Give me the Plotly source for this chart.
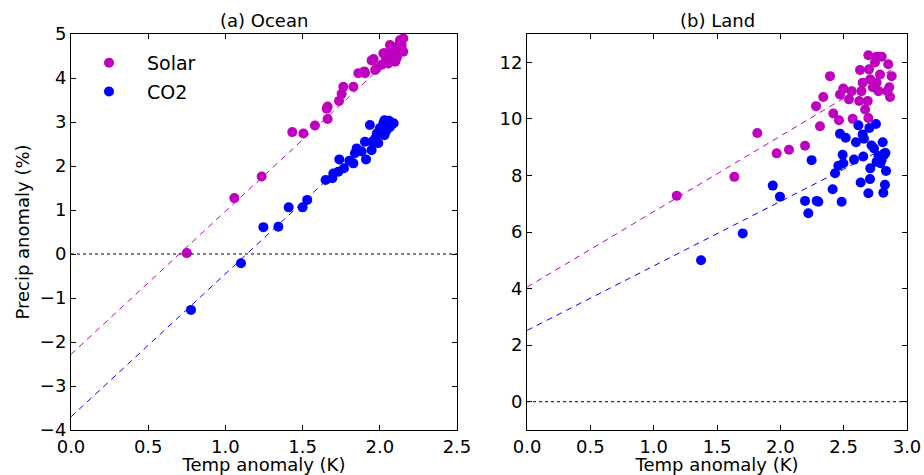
import plotly.graph_objects as go

# ---------------- data ----------------
ocean_solar_x = [0.75, 1.058, 1.235, 1.433, 1.505, 1.580, 1.662, 1.656, 1.662, 1.736, 1.753, 1.764,
                 1.829, 1.861, 1.904, 1.90, 1.947, 1.97, 1.98, 2.012, 2.023, 2.034, 2.055, 2.055,
                 2.066, 2.088, 2.088, 2.10, 2.109, 2.109, 2.131, 2.131, 2.142, 2.152, 2.152, 2.12,
                 2.14, 2.07, 2.04, 1.96]
ocean_solar_y = [0.02, 1.27, 1.76, 2.77, 2.74, 2.92, 3.07, 3.30, 3.35, 3.48, 3.64, 3.80,
                 3.80, 4.11, 4.11, 4.15, 4.40, 4.18, 4.22, 4.30, 4.56, 4.56, 4.37, 4.33,
                 4.75, 4.60, 4.64, 4.37, 4.71, 4.45, 4.86, 4.79, 4.75, 4.60, 4.90, 4.55,
                 4.68, 4.50, 4.45, 4.43]

ocean_co2_x = [0.777, 1.101, 1.246, 1.343, 1.41, 1.50, 1.53, 1.649, 1.693, 1.699, 1.731, 1.768,
               1.738, 1.803, 1.829, 1.911, 1.839, 1.850, 1.883, 1.904, 1.947, 1.95, 1.936, 1.99,
               1.98, 2.001, 2.023, 2.055, 2.03, 2.066, 2.03, 2.04, 2.07, 2.08, 2.05, 2.01,
               2.06, 2.09, 1.97]
ocean_co2_y = [-1.27, -0.21, 0.61, 0.62, 1.06, 1.06, 1.23, 1.68, 1.72, 1.83, 1.87, 1.95,
               2.15, 2.12, 2.06, 2.15, 2.29, 2.40, 2.33, 2.55, 2.36, 2.55, 2.93, 2.52,
               2.74, 2.86, 2.97, 3.01, 2.70, 2.89, 3.04, 2.79, 2.98, 2.95, 2.85, 2.75,
               3.03, 2.97, 2.62]

land_solar_x = [1.182, 1.637, 1.818, 1.971, 2.068, 2.195, 2.282, 2.313, 2.339, 2.392, 2.418, 2.463,
                2.471, 2.497, 2.542, 2.563, 2.571, 2.629, 2.623, 2.64, 2.650, 2.669, 2.69, 2.695,
                2.70, 2.695, 2.71, 2.73, 2.747, 2.761, 2.76, 2.775, 2.787, 2.80, 2.845, 2.852,
                2.86, 2.866, 2.879]
land_solar_y = [7.28, 7.95, 9.50, 8.78, 8.91, 9.05, 10.45, 9.74, 10.77, 11.51, 10.19, 9.95,
                10.86, 11.07, 10.69, 10.98, 10.00, 11.73, 10.63, 10.98, 11.28, 10.33, 10.63, 12.25,
                11.75, 10.03, 11.40, 11.12, 11.99, 12.20, 11.28, 10.98, 11.57, 12.20, 10.98, 11.93,
                11.12, 10.77, 11.51]

land_co2_x = [1.374, 1.703, 1.940, 1.997, 2.195, 2.221, 2.247, 2.287, 2.30, 2.413, 2.432, 2.458,
              2.471, 2.484, 2.492, 2.497, 2.516, 2.582, 2.597, 2.616, 2.634, 2.65, 2.655, 2.66,
              2.695, 2.703, 2.708, 2.71, 2.72, 2.74, 2.755, 2.76, 2.775, 2.79, 2.808, 2.813,
              2.82, 2.826, 2.83, 2.834, 2.80]
land_co2_y = [5.00, 5.95, 7.64, 7.25, 7.10, 6.66, 8.54, 7.10, 7.07, 7.51, 8.08, 8.34,
              9.47, 7.07, 8.73, 8.43, 9.33, 8.56, 9.17, 9.77, 7.75, 9.45, 8.67, 9.30,
              7.37, 9.68, 7.87, 8.25, 9.06, 8.95, 9.82, 8.48, 8.69, 8.43, 9.17, 7.39,
              8.73, 7.67, 8.79, 8.16, 8.55]

# regression fits (intercept, slope)
ocean_solar_fit = [-2.28, 3.25]
ocean_co2_fit = [-3.70, 3.25]
land_solar_fit = [4.05, 2.67]
land_co2_fit = [2.52, 2.28]

series_names = ["Solar", "CO2"]
x_ticks_ocean = [0.0, 0.5, 1.0, 1.5, 2.0, 2.5]
x_ticks_land = [0.0, 0.5, 1.0, 1.5, 2.0, 2.5, 3.0]
y_ticks_ocean = [-4, -3, -2, -1, 0, 1, 2, 3, 4, 5]
y_ticks_land = [0, 2, 4, 6, 8, 10, 12]

MAG = "#BF00BF"
BLU = "#0000FF"
FONT = "DejaVu Sans"

fig = go.Figure()


def add_panel(xs_list, ys_list, fits, xa, ya, showleg):
    for xs, ys, fit, col, name in zip(xs_list, ys_list, fits, [MAG, BLU], series_names):
        xmax = max(xs)
        fig.add_trace(go.Scatter(x=[0, xmax], y=[fit[0], fit[0] + fit[1] * xmax], mode="lines",
                                 line=dict(color=col, width=1, dash="6px,5px"),
                                 showlegend=False, xaxis=xa, yaxis=ya, hoverinfo="skip"))
    for xs, ys, fit, col, name in zip(xs_list, ys_list, fits, [MAG, BLU], series_names):
        fig.add_trace(go.Scatter(x=xs, y=ys, mode="markers", name=name,
                                 marker=dict(color=col, size=10, line=dict(width=0)),
                                 showlegend=showleg, legendgroup=name,
                                 xaxis=xa, yaxis=ya))


add_panel([ocean_solar_x, ocean_co2_x], [ocean_solar_y, ocean_co2_y],
          [ocean_solar_fit, ocean_co2_fit], "x", "y", True)
add_panel([land_solar_x, land_co2_x], [land_solar_y, land_co2_y],
          [land_solar_fit, land_co2_fit], "x2", "y2", False)

# zero reference lines
fig.add_shape(type="line", xref="x", yref="y", x0=0, x1=2.5, y0=0, y1=0,
              line=dict(color="black", width=1, dash="dot"))
fig.add_shape(type="line", xref="x2", yref="y2", x0=0, x1=3.0, y0=0, y1=0,
              line=dict(color="black", width=1, dash="dot"))

axis_common = dict(showline=True, linecolor="black", linewidth=1, mirror="ticks",
                   ticks="inside", ticklen=5, tickwidth=1, tickcolor="black",
                   showgrid=False, zeroline=False, automargin=False,
                   tickfont=dict(family=FONT, size=18, color="black"))

fig.update_layout(
    width=924, height=475,
    margin=dict(l=71, r=17, t=34, b=45),
    paper_bgcolor="white", plot_bgcolor="white",
    font=dict(family=FONT, color="black"),
    xaxis=dict(domain=[0, 0.4617], range=[0, 2.5], tickvals=x_ticks_ocean, tickformat=".1f",
               title=dict(text="Temp anomaly (K)", font=dict(size=18), standoff=1), anchor="y",
               **axis_common),
    yaxis=dict(domain=[0, 1], range=[-4, 5], tickvals=y_ticks_ocean,
               title=dict(text="Precip anomaly (%)", font=dict(size=18), standoff=5), anchor="x",
               **axis_common),
    xaxis2=dict(domain=[0.5455, 1], range=[0, 3.0], tickvals=x_ticks_land, tickformat=".1f",
                title=dict(text="Temp anomaly (K)", font=dict(size=18), standoff=1), anchor="y2",
                **axis_common),
    yaxis2=dict(domain=[0, 1], range=[-1, 13], tickvals=y_ticks_land, anchor="x2",
                **axis_common),
    legend=dict(x=0.0, y=0.975, xanchor="left", yanchor="top", bgcolor="rgba(0,0,0,0)",
                font=dict(family=FONT, size=19), traceorder="grouped", tracegroupgap=1,
                itemwidth=66),
    annotations=[
        dict(text="(a) Ocean", x=0.4617 / 2, y=1, xref="paper", yref="paper",
             xanchor="center", yanchor="bottom", yshift=1, showarrow=False,
             font=dict(family=FONT, size=18)),
        dict(text="(b) Land", x=(0.5455 + 1) / 2, y=1, xref="paper", yref="paper",
             xanchor="center", yanchor="bottom", yshift=1, showarrow=False,
             font=dict(family=FONT, size=18)),
    ],
)

fig.write_html("out.html", config={"displayModeBar": False},
               post_script="document.body.style.margin='0';document.body.style.padding='0';")
